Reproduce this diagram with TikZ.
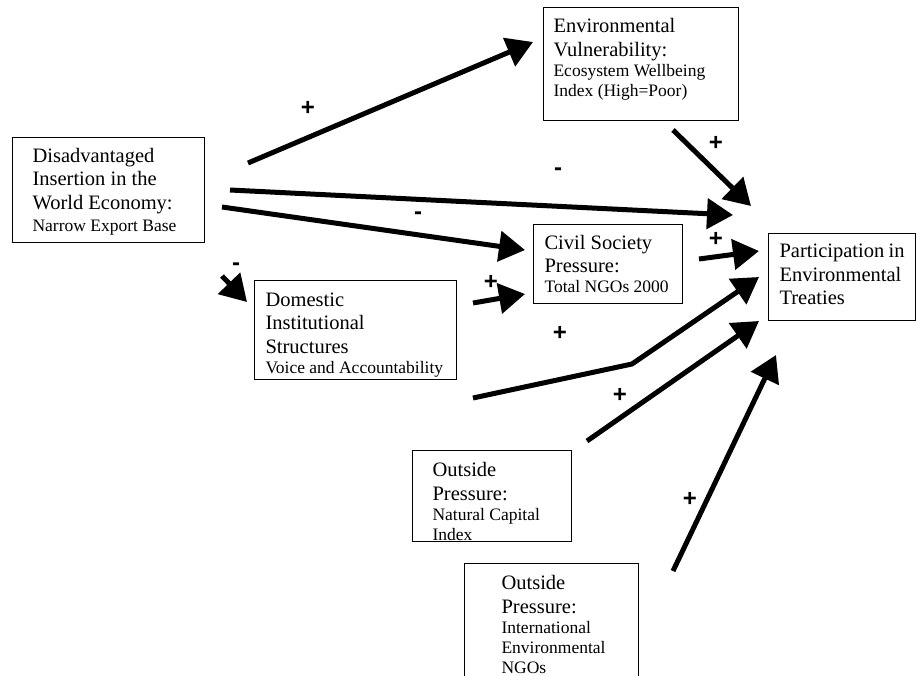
\documentclass[tikz,border=0pt]{standalone}
\usepackage{fontspec}
\setmainfont{Liberation Serif}
\newfontfamily\signfont{Liberation Sans}
\usetikzlibrary{arrows.meta}
\newcommand\bigtx{\fontsize{20.5}{23.5}\selectfont}
\newcommand\smalltx{\fontsize{17.5}{20}\selectfont}
\tikzset{
  box/.style={draw, line width=1.1pt, anchor=north west, align=flush left,
    inner ysep=0pt, font=\bigtx},
  link/.style={line width=5pt, -{Triangle[length=26pt,width=30pt]}},
  sign/.style={font=\signfont\bfseries\fontsize{24}{24}\selectfont,
    inner sep=0pt, text height=15pt, text depth=0pt}
}
\begin{document}
\begin{tikzpicture}[x=1pt,y=-1pt]
    \useasboundingbox (0,0) rectangle (916,675);
    % boxes
    \node[box, text width=152pt, inner xsep=20pt, minimum height=105pt, text height=17pt] (dis) at (12,137)
      {Disadvantaged\\ Insertion in the\\ World Economy:\par\vspace{2pt}\smalltx Narrow Export Base\par};
    \node[box, text width=175pt, inner xsep=10pt, minimum height=113pt, text height=5pt] (env) at (543,7)
      {Environmental\\ Vulnerability:\par\smalltx Ecosystem Wellbeing\\ Index (High=Poor)\par};
    \node[box, text width=127pt, inner xsep=11pt, minimum height=79pt] (civ) at (533,224)
      {Civil Society\\ Pressure:\par\smalltx Total~NGOs~2000\par};
    \node[box, text width=125pt, inner xsep=11pt, minimum height=87pt, text height=9pt] (par) at (768,233)
      {Participation~in\\ Environmental\\ Treaties\par};
    \node[box, text width=180pt, inner xsep=11pt, minimum height=99pt, text height=23pt] (dom) at (254,280)
      {Domestic\\ Institutional\\ Structures\par\smalltx Voice~and~Accountability\par};
    \node[box, text width=119pt, inner xsep=20pt, minimum height=91pt, text height=25pt] (nat) at (412,450)
      {Outside\\ Pressure:\par\smalltx Natural Capital\\ Index\par};
    \node[box, text width=100pt, inner xsep=37pt, minimum height=122pt] (ngo) at (464,563)
      {Outside\\ Pressure:\par\smalltx International\\ Environmental\\ NGOs\par};
    % arrow ends
    \coordinate (dis-env) at (248,163);   \coordinate (env-in) at (533,42);
    \coordinate (dis-par) at (230,190);   \coordinate (par-a) at (733,215);
    \coordinate (dis-civ) at (222,207);   \coordinate (civ-a) at (525,250);
    \coordinate (dis-dom) at (222,276);   \coordinate (dom-in) at (247,302);
    \coordinate (dom-civ) at (473,303);   \coordinate (civ-b) at (525,294);
    \coordinate (civ-par) at (699,259);   \coordinate (par-b) at (759,251);
    \coordinate (env-par) at (673,130);   \coordinate (par-c) at (751,206);
    \coordinate (dom-par) at (473,398);   \coordinate (bend) at (632,364);
    \coordinate (par-d) at (759,277);
    \coordinate (nat-par) at (587,441);   \coordinate (par-e) at (759,321);
    \coordinate (ngo-par) at (673,571);   \coordinate (par-f) at (776,355);
    % arrows
    \draw[link] (dis-env) -- (env-in);
    \draw[link] (dis-par) -- (par-a);
    \draw[link] (dis-civ) -- (civ-a);
    \draw[link] (dis-dom) -- (dom-in);
    \draw[link] (dom-civ) -- (civ-b);
    \draw[link] (civ-par) -- (par-b);
    \draw[link] (env-par) -- (par-c);
    \draw[link] (dom-par) -- (bend) -- (par-d);
    \draw[link] (nat-par) -- (par-e);
    \draw[link] (ngo-par) -- (par-f);
    % signs
    \node[sign] (s-de) at (308,108) {+};
    \node[sign] (s-dp) at (558,168) {-};
    \node[sign] (s-dc) at (418,212) {-};
    \node[sign] (s-dd) at (236,263) {-};
    \node[sign] (s-oc) at (491,282) {+};
    \node[sign] (s-cp) at (716,239) {+};
    \node[sign] (s-ep) at (716,143) {+};
    \node[sign] (s-op) at (560,333) {+};
    \node[sign] (s-np) at (620,395) {+};
    \node[sign] (s-gp) at (690,499) {+};
  \end{tikzpicture}
\end{document}
